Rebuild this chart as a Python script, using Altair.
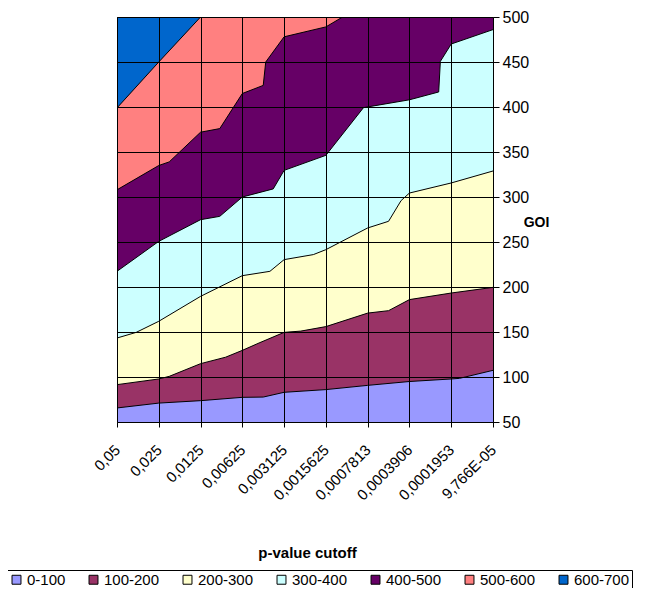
import altair as alt
import pandas as pd

# x tick labels (p-value cutoffs), categories placed at index 0..9
labels = ["0,05", "0,025", "0,0125", "0,00625", "0,003125", "0,0015625",
          "0,0007813", "0,0003906", "0,0001953", "9,766E-05"]
bands = ["0-100", "100-200", "200-300", "300-400", "400-500", "500-600", "600-700"]
colors = ["#9999FF", "#993366", "#FFFFCC", "#CCFFFF", "#660066", "#FF8080", "#0066CC"]

# upper boundary (GOI) of each band along the p-value index
x_0_100 = [0, 1, 2, 3, 3.5, 4, 5, 6, 7, 8, 8.2, 9]
y_0_100 = [65.6, 71, 73.7, 77.4, 77.7, 83, 86, 90.7, 95, 97.8, 98.5, 107.4]
x_100_200 = [0, 1, 1.25, 2, 2.6, 3, 3.4, 4, 4.4, 5, 6, 6.5, 7, 8, 9]
y_100_200 = [91.5, 97.8, 100.7, 114.8, 122, 129.6, 137.8, 149.6, 151, 156, 171, 173.7, 186, 193.3, 199.6]
x_200_300 = [0, 0.46, 1, 2, 3, 3.66, 4, 4.7, 5, 6, 6.5, 6.8, 7, 8, 9]
y_200_300 = [143.3, 149.6, 161.9, 189.6, 212.6, 217.4, 230.4, 236, 241.5, 265.6, 273, 296, 304.4, 315.6, 328.9]
x_300_400 = [0, 1, 2, 2.46, 3, 3.74, 4, 5, 5.9, 7, 7.7, 7.74, 8, 9]
y_300_400 = [217.4, 250.7, 274.8, 278.5, 300, 309, 329.6, 346.3, 399.3, 408, 416.7, 450.7, 470, 486]
x_400_500 = [0, 1, 1.25, 2, 2.46, 3, 3.5, 3.56, 4, 5, 5.4, 9]
y_400_500 = [308, 335, 339, 372, 376, 415, 424, 450, 478, 489, 500, 500]
x_500_600 = [0, 1, 2, 9]
y_500_600 = [399, 450, 500, 500]
x_600_700 = [0, 9]
y_600_700 = [500, 500]

xs = [x_0_100, x_100_200, x_200_300, x_300_400, x_400_500, x_500_600, x_600_700]
ys = [y_0_100, y_100_200, y_200_300, y_300_400, y_400_500, y_500_600, y_600_700]

rows = []
for b, bx, by in zip(bands, xs, ys):
    for xx, yy in zip(bx, by):
        rows.append({"band": b, "x": xx, "y": yy})
df = pd.DataFrame(rows)

FONT = "Liberation Sans"
label_expr = "[" + ",".join(f"'{l}'" for l in labels) + "][datum.value]"

x_enc = alt.X(
    "x:Q",
    scale=alt.Scale(domain=[0, 9], nice=False, zero=False),
    axis=alt.Axis(
        values=list(range(10)), labelExpr=label_expr, labelAngle=-45,
        labelAlign="right", labelBaseline="middle", labelPadding=20,
        labelFontSize=15, labelFont=FONT, labelColor="black",
        labelOverlap=False, labelBound=False,
        title="p-value cutoff", titleFont=FONT, titleFontSize=15,
        titleFontWeight="bold", titleColor="black", titleX=190, titleY=130,
        titleBaseline="middle",
        grid=True, gridColor="black", gridOpacity=1, gridWidth=1,
        domainColor="black", tickColor="black", tickSize=5, zindex=1,
    ),
)
y_enc = alt.Y(
    "y:Q",
    scale=alt.Scale(domain=[50, 500], nice=False, zero=False),
    axis=alt.Axis(
        orient="right", values=list(range(50, 501, 50)),
        labelFontSize=16, labelFont=FONT, labelColor="black", labelPadding=3,
        labelOverlap=False,
        title="GOI", titleAngle=0, titleFont=FONT, titleFontSize=14,
        titleFontWeight="bold", titleColor="black", titleX=43, titleY=205,
        titleAlign="center", titleBaseline="middle",
        grid=True, gridColor="black", gridOpacity=1, gridWidth=1,
        domainColor="black", tickColor="black", tickSize=6, zindex=1,
    ),
)
color_enc = alt.Color(
    "band:N",
    scale=alt.Scale(domain=bands, range=colors),
    legend=alt.Legend(
        orient="none", legendX=-110, legendY=553, direction="horizontal",
        columns=7, title=None, fillColor="white", strokeColor="black",
        padding=2, symbolType="square", symbolSize=80,
        symbolStrokeColor="black", symbolStrokeWidth=1, symbolOpacity=1,
        labelFont=FONT, labelFontSize=15, labelColor="black",
        columnPadding=20, labelOffset=3,
    ),
)

base = alt.Chart(df)
areas = []
lines = []
for b in reversed(bands):
    areas.append(
        base.transform_filter(alt.datum.band == b)
        .mark_area(opacity=1, clip=True)
        .encode(x=x_enc, y=y_enc, y2=alt.datum(50), color=color_enc)
    )
    lines.append(
        base.transform_filter(alt.datum.band == b)
        .mark_line(color="black", strokeWidth=1, clip=True)
        .encode(x=x_enc, y=y_enc)
    )

chart = alt.layer(*areas, *lines).properties(
    width=376, height=405,
    padding={"left": 109, "top": 9, "right": 146, "bottom": 166},
    autosize=alt.AutoSizeParams(type="none"),
).configure_view(stroke="black").configure(background="white")

chart.save("out.html", embed_options={"renderer": "svg", "actions": False})
